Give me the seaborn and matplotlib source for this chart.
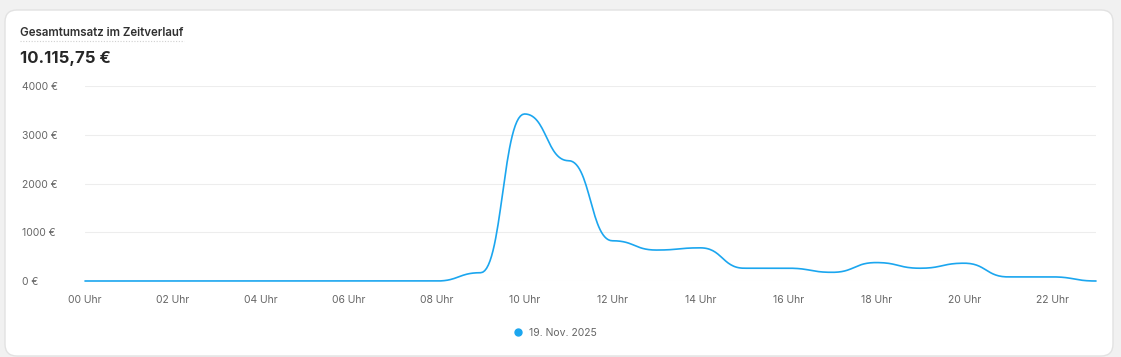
import numpy as np
import pandas as pd
import matplotlib
matplotlib.use("Agg")
import matplotlib.pyplot as plt
import matplotlib.patches as mpatches
from matplotlib.lines import Line2D
from matplotlib.transforms import IdentityTransform
import seaborn as sns

# Umsatz pro Stunde (19. Nov. 2025)
hours = list(range(24))
revenue = [0, 0, 0, 0, 0, 0, 0, 0, 0, 170, 3426, 2468, 825, 635, 680, 262,
           262, 178, 378, 262, 365, 84, 84, 0]
y_ticks = [0, 1000, 2000, 3000, 4000]
x_ticks = list(range(0, 24, 2))
title = "Gesamtumsatz im Zeitverlauf"
total_label = "10.115,75 €"
series_label = "19. Nov. 2025"

line_color = "#1ba6ef"
text_gray = "#666666"


def bump_curve(x, y, steps=30):
    # smooth line with flat tangents at every point (like d3 curveBumpX)
    x = np.asarray(x, float)
    y = np.asarray(y, float)
    xs, ys = [], []
    u = np.linspace(0, 1, steps, endpoint=False)
    for i in range(len(x) - 1):
        # cubic bezier, control points at the horizontal midpoint
        x0, x1, y0, y1 = x[i], x[i + 1], y[i], y[i + 1]
        xm = (x0 + x1) / 2
        bx = (1 - u)**3 * x0 + 3 * (1 - u)**2 * u * xm + 3 * (1 - u) * u**2 * xm + u**3 * x1
        by = (1 - u)**3 * y0 + 3 * (1 - u)**2 * u * y0 + 3 * (1 - u) * u**2 * y1 + u**3 * y1
        xs.extend(bx)
        ys.extend(by)
    xs.append(x[-1])
    ys.append(y[-1])
    return np.array(xs), np.array(ys)


sns.set_theme(style="white")
plt.rcParams["font.family"] = ["Inter", "DejaVu Sans"]

W, H = 1121, 357
fig = plt.figure(figsize=(W / 100, H / 100), dpi=100)
fig.patch.set_facecolor("#f1f1f1")

# white card behind everything
card = mpatches.FancyBboxPatch((5, 1), 1108, 346, boxstyle="round,pad=0,rounding_size=12",
                               facecolor="white", edgecolor="#e2e2e2", linewidth=1,
                               transform=IdentityTransform(), zorder=-10)
fig.patches.append(card)

# header
fig.text(20 / W, 1 - 32.5 / H, title, fontsize=8.3, fontweight="semibold", color="#303030", va="center")
fig.add_artist(Line2D([20 / W, 184 / W], [1 - 41 / H, 1 - 41 / H], transform=fig.transFigure,
                      color="#d0d0d0", lw=0.8, ls=(0, (1, 1.5))))
fig.text(20 / W, 1 - 58.5 / H, total_label, fontsize=12, fontweight="bold", color="#262626", va="center")

ax = fig.add_axes([85 / W, 1 - 281 / H, (1096 - 85) / W, (281 - 86) / H])
ax.set_facecolor("none")

xs, ys = bump_curve(hours, revenue)
df = pd.DataFrame({"Stunde": xs, "Umsatz": ys})
sns.lineplot(data=df, x="Stunde", y="Umsatz", ax=ax, color=line_color, linewidth=1.2,
             clip_on=False, zorder=3)

ax.set_xlim(0, 23)
ax.set_ylim(0, 4000)
ax.set_yticks(y_ticks)
ax.set_yticklabels([f"{v} €" for v in y_ticks])
ax.set_xticks(x_ticks)
ax.set_xticklabels([f"{h:02d} Uhr" for h in x_ticks])
ax.set_xlabel("")
ax.set_ylabel("")
ax.yaxis.grid(True, color="#ededed", linewidth=0.8)
ax.xaxis.grid(False)
for sp in ax.spines.values():
    sp.set_visible(False)
ax.tick_params(axis="both", length=0, labelsize=7.5, labelcolor=text_gray)
ax.tick_params(axis="y", pad=45)
ax.tick_params(axis="x", pad=10)
for lab in ax.get_yticklabels():
    lab.set_horizontalalignment("left")

handle = Line2D([], [], marker="o", linestyle="", color=line_color, markersize=5)
ax.legend(handles=[handle], labels=[series_label], loc="center",
          bbox_to_anchor=(552 / W, 1 - 333 / H), bbox_transform=fig.transFigure,
          frameon=False, handletextpad=0.1, fontsize=7.5, labelcolor=text_gray)

fig.savefig("out.png", dpi=100, facecolor=fig.get_facecolor())
